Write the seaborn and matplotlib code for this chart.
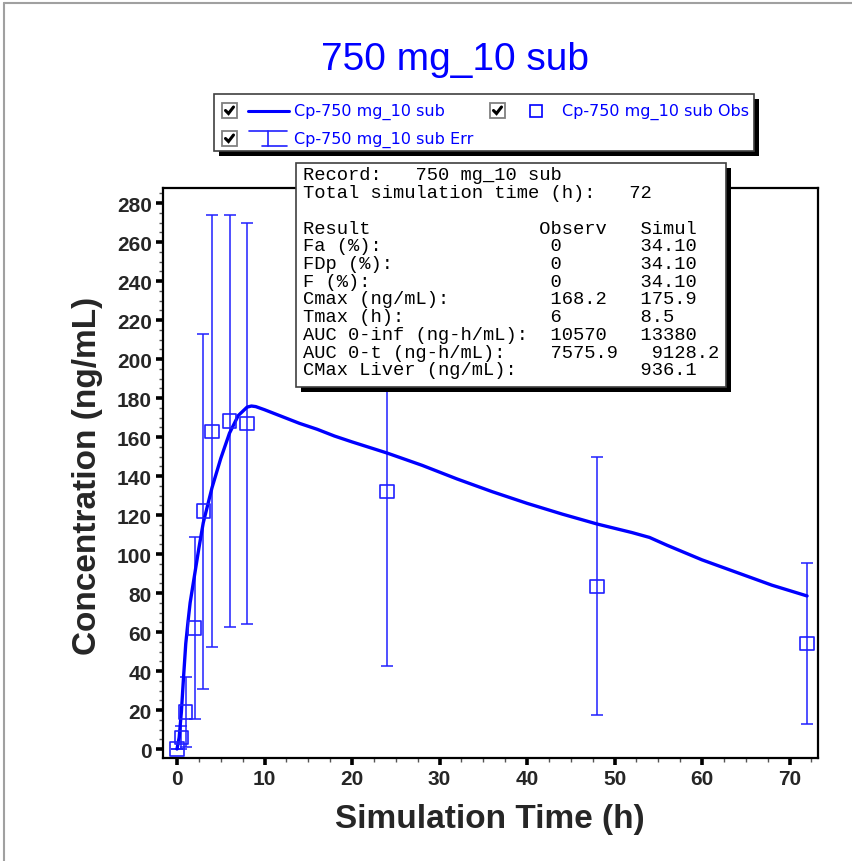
import numpy as np
import pandas as pd
import matplotlib
matplotlib.use("Agg")
import matplotlib.pyplot as plt
import seaborn as sns
from matplotlib.patches import Rectangle
from matplotlib.lines import Line2D
from matplotlib.ticker import MultipleLocator, FixedLocator

# ---------------- data ----------------
sim_time = [0, 0.25, 0.5, 0.75, 1, 1.25, 1.5, 2, 2.5, 3, 4, 5, 6, 7, 8, 8.5, 9, 10,
            12, 14, 16, 18, 20, 24, 28, 32, 36, 40, 44, 48, 52, 54, 56, 60, 64, 68, 72]
sim_conc = [0, 6, 19, 37, 54, 65, 75, 89, 103, 116, 134, 149, 162, 171, 175.3, 175.9, 175.6, 174,
            170.5, 167, 164, 160.5, 157.5, 151.8, 145.5, 138.5, 132, 126, 120.5, 115.4, 111, 108.5,
            104.5, 97, 90.5, 84, 78.5]

obs_time = [0, 0.5, 1, 2, 3, 4, 6, 8, 24, 48, 72]
obs_conc = [0, 6, 19, 62, 122, 163, 168.2, 167, 132, 83.5, 54]
obs_sd = [0, 6, 18, 46.5, 91, 110.6, 105.7, 103, 89.5, 66.3, 41.3]

x_ticks = [0, 10, 20, 30, 40, 50, 60, 70]
y_ticks = [0, 20, 40, 60, 80, 100, 120, 140, 160, 180, 200, 220, 240, 260, 280]

title_text = "750 mg_10 sub"
x_label = "Simulation Time (h)"
y_label = "Concentration (ng/mL)"
legend_line = "Cp-750 mg_10 sub"
legend_obs = "Cp-750 mg_10 sub Obs"
legend_err = "Cp-750 mg_10 sub Err"

info_lines = [
    "Record:   750 mg_10 sub",
    "Total simulation time (h):   72",
    "",
    "Result               Observ   Simul",
    "Fa (%):               0       34.10",
    "FDp (%):              0       34.10",
    "F (%):                0       34.10",
    "Cmax (ng/mL):         168.2   175.9",
    "Tmax (h):             6       8.5",
    "AUC 0-inf (ng-h/mL):  10570   13380",
    "AUC 0-t (ng-h/mL):    7575.9   9128.2",
    "CMax Liver (ng/mL):           936.1",
]

sim_df = pd.DataFrame({"t": sim_time, "c": sim_conc})
obs_df = pd.DataFrame({"t": obs_time, "c": obs_conc, "sd": obs_sd})

# ---------------- style ----------------
sns.set_style("white")
plt.rcParams["font.family"] = ["Liberation Sans", "DejaVu Sans"]

W, H = 853, 862
fig = plt.figure(figsize=(W / 100, H / 100), dpi=100)
fig.patch.set_facecolor("white")


def fx(x):
    return x / W


def fy(y):
    return 1 - y / H


BLUE = "#0000ff"
EBLUE = "#2020ff"

ax_l, ax_r, ax_t, ax_b = 163, 818, 189, 759
ax = fig.add_axes([fx(ax_l), fy(ax_b), (ax_r - ax_l) / W, (ax_b - ax_t) / H])

ax.errorbar(obs_df["t"], obs_df["c"], yerr=obs_df["sd"], fmt="none",
            ecolor=EBLUE, elinewidth=1.1, capsize=4.5, capthick=1.1, zorder=2)
sns.lineplot(data=sim_df, x="t", y="c", ax=ax, color=BLUE, lw=2.4,
             estimator=None, sort=False, zorder=3)
sns.scatterplot(data=obs_df, x="t", y="c", ax=ax, marker="s", s=92,
                facecolor="none", edgecolor=EBLUE, linewidth=1.2, zorder=4)

ax.set_xlim(-1.6, 73.25)
ax.set_ylim(-4.6, 287.7)
ax.xaxis.set_major_locator(FixedLocator(x_ticks))
ax.yaxis.set_major_locator(FixedLocator(y_ticks))
ax.xaxis.set_minor_locator(MultipleLocator(2.5))
ax.yaxis.set_minor_locator(MultipleLocator(5))
ax.tick_params(which="major", direction="out", length=5, width=2.6, color="black",
               labelsize=15, pad=3, left=True, bottom=True)
ax.tick_params(which="minor", direction="out", length=3, width=1, color="#555555",
               left=True, bottom=True)
for lab in ax.get_xticklabels() + ax.get_yticklabels():
    lab.set_fontweight("bold")
ax.set_xlabel("")
ax.set_ylabel("")
for sp in ax.spines.values():
    sp.set_color("black")
    sp.set_linewidth(1.6)

# axis labels and title
fig.text(fx(490), fy(820), x_label, ha="center", va="center", fontsize=24, fontweight="bold")
fig.text(fx(88), fy(476), y_label, ha="center", va="center", fontsize=24, fontweight="bold",
         rotation=90)
fig.text(fx(455), fy(60), title_text, ha="center", va="center", fontsize=28, color=BLUE)

# window border
fig.add_artist(Line2D([fx(4), fx(853)], [fy(4), fy(4)], color="#a0a0a0", lw=1.5))
fig.add_artist(Line2D([fx(4), fx(4)], [fy(4), fy(862)], color="#a0a0a0", lw=1.5))


def box(x0, y0, x1, y1, shadow=5, z=10):
    fig.add_artist(Rectangle((fx(x0 + shadow), fy(y1 + shadow)), (x1 - x0) / W, (y1 - y0) / H,
                             transform=fig.transFigure, facecolor="black", edgecolor="none",
                             zorder=z))
    fig.add_artist(Rectangle((fx(x0), fy(y1)), (x1 - x0) / W, (y1 - y0) / H,
                             transform=fig.transFigure, facecolor="white", edgecolor="#404040",
                             lw=1.2, zorder=z + 0.1))


def checkbox(x0, y0, size=15, z=11):
    fig.add_artist(Rectangle((fx(x0), fy(y0 + size)), size / W, size / H,
                             transform=fig.transFigure, facecolor="white", edgecolor="#808080",
                             lw=1.3, zorder=z))
    xs = [x0 + 3.5, x0 + 6.5, x0 + 11.5]
    ys = [y0 + 7.5, y0 + 10.5, y0 + 4]
    fig.add_artist(Line2D([fx(v) for v in xs], [fy(v) for v in ys], color="black", lw=2.2,
                          zorder=z + 0.1, solid_joinstyle="miter"))


# legend box
box(214, 95, 754, 152)
checkbox(222, 104)
fig.add_artist(Line2D([fx(248), fx(289)], [fy(112), fy(112)], color=BLUE, lw=2.2, zorder=12))
fig.text(fx(294), fy(112), legend_line, ha="left", va="center", fontsize=11.5, color=BLUE,
         family="DejaVu Sans", zorder=12)
checkbox(490, 104)
fig.add_artist(Line2D([fx(536)], [fy(112)], marker="s", ms=8.5, mfc="none", mec=BLUE,
                      mew=1.2, zorder=12))
fig.text(fx(562), fy(112), legend_obs, ha="left", va="center", fontsize=11.5, color=BLUE,
         family="DejaVu Sans", zorder=12)
checkbox(222, 132)
fig.add_artist(Line2D([fx(249), fx(287)], [fy(132), fy(132)], color=EBLUE, lw=1.2, zorder=12))
fig.add_artist(Line2D([fx(268), fx(268)], [fy(132), fy(147)], color=EBLUE, lw=1.2, zorder=12))
fig.add_artist(Line2D([fx(262), fx(287)], [fy(147), fy(147)], color=EBLUE, lw=1.2, zorder=12))
fig.text(fx(294), fy(140), legend_err, ha="left", va="center", fontsize=11.5, color=BLUE,
         family="DejaVu Sans", zorder=12)

# info box
box(296, 164, 726, 388)
for i, line in enumerate(info_lines):
    if line:
        fig.text(fx(303), fy(176 + i * 17.7), line, ha="left", va="center", fontsize=13.5,
                 family="Liberation Mono", color="black", zorder=12)

fig.savefig("out.png", dpi=100)
